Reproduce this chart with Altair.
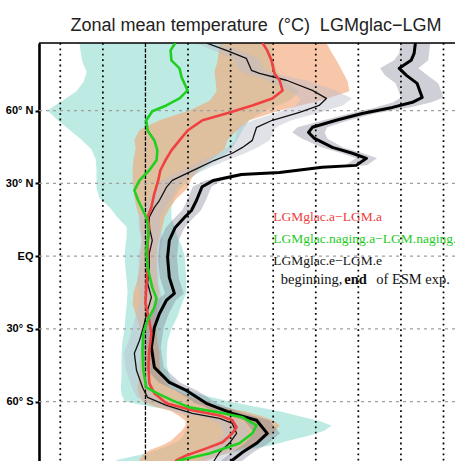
import altair as alt
import pandas as pd

# ---------------------------------------------------------------- data
# common latitude grid for the two ensemble-spread bands
BAND_LAT = [87.86, 84, 80, 76, 72, 68, 64, 60, 56, 52, 48, 44, 40, 36, 32, 28,
            24, 20, 16, 12, 8, 4, 0, -5, -10, -15, -20, -25, -30, -35, -40, -45,
            -50, -54, -57, -60, -62, -64, -66, -68, -70, -72, -74, -76, -78, -80,
            -82, -84, -86]
# spread of LGMglac.naging.a-LGM.naging.a
AQUA_LO = [-1.55, -1.52, -1.48, -1.38, -1.45, -1.62, -1.95, -2.30, -2.06, -1.78,
           -1.50, -1.27, -1.17, -1.15, -1.15, -1.15, -1.08, -0.84, -0.66, -0.44,
           -0.44, -0.47, -0.49, -0.47, -0.44, -0.42, -0.44, -0.47, -0.49, -0.54,
           -0.56, -0.56, -0.56, -0.58, -0.56, -0.49, 0.10, 0.80, 0.94, 0.99,
           0.99, 0.94, 0.89, 0.80, 0.57, 0.28, -0.14, -0.66, -0.80]
AQUA_HI = [2.96, 2.98, 3.03, 3.10, 3.27, 3.62, 3.38, 2.80, 2.44, 2.28,
           2.16, 2.02, 1.74, 1.36, 1.04, 0.82, 0.68, 0.61, 0.61, 0.68,
           0.75, 0.85, 0.92, 0.94, 0.96, 0.96, 0.85, 0.75, 0.61, 0.52,
           0.50, 0.50, 0.57, 0.80, 1.27, 1.97, 2.56, 3.15, 3.62, 4.09,
           4.37, 4.20, 3.85, 3.38, 2.96, 2.33, 1.79, 1.34, 1.15]
# spread of LGMglac.a-LGM.a
SALMON_LO = [1.74, 1.72, 1.69, 1.62, 1.65, 1.67, 1.51, 1.03, 0.33, -0.14,
             -0.26, -0.23, -0.28, -0.30, -0.30, -0.28, -0.26, -0.21, -0.14, -0.12,
             -0.09, -0.09, -0.12, -0.14, -0.19, -0.28, -0.30, -0.21, -0.12, -0.09,
             -0.12, -0.14, -0.14, -0.19, -0.16, -0.07, 0.21, 0.61, 0.80, 0.94,
             0.94, 0.85, 0.73, 0.61, 0.40, 0.10, -0.07, -0.14, -0.19]
SALMON_HI = [4.25, 4.37, 4.51, 4.63, 4.75, 4.79, 4.10, 3.15, 2.44, 2.16,
             1.93, 1.86, 1.55, 1.27, 1.08, 0.99, 0.75, 0.57, 0.45, 0.40,
             0.33, 0.28, 0.26, 0.26, 0.28, 0.33, 0.28, 0.26, 0.26, 0.28,
             0.33, 0.33, 0.38, 0.57, 0.92, 1.32, 1.74, 2.33, 2.73, 3.03,
             3.15, 3.05, 2.91, 2.73, 2.56, 2.16, 1.79, 1.50, 1.27]

GREEN_LAT = [87.86, 84.8, 80.7, 77.4, 73.7, 68.3, 65.0, 62.1, 59.7, 56.0, 51.8,
             47.7, 43.6, 39.5, 35.4, 31.2, 27.1, 22.9, 16.0, 13.5, 9.4, 2.4,
             -4.6, -12.9, -17.4, -21.2, -26.5, -31.9, -38.9, -47.1, -54.1, -56.6,
             -59.5, -62.4, -64.5, -66.5, -69.8, -73.1, -77.2, -81.4, -84.2, -87.86]
GREEN_VAL = [0.70, 0.59, 0.61, 0.80, 0.85, 0.99, 0.80, 0.49, 0.16, 0.02, 0.05,
             0.21, 0.28, 0.26, 0.09, -0.14, -0.26, -0.17, 0.02, 0.05, 0.07, 0.02,
             0.05, 0.16, 0.26, 0.21, 0.05, -0.05, -0.07, -0.05, 0.02, 0.28,
             0.63, 1.03, 1.74, 2.28, 2.61, 2.51, 2.21, 1.50, 0.80, 0.45]

RED_LAT = [87.86, 84.8, 80.7, 75.3, 72.5, 68.3, 65.0, 62.1, 58.8, 56.0, 51.8,
           47.7, 43.6, 39.5, 35.4, 31.2, 25.9, 20.1, 16.0, 11.8, 5.2, -4.6,
           -12.9, -19.5, -26.5, -31.9, -38.9, -45.9, -52.5, -56.6, -60.7, -63.6,
           -65.7, -67.7, -70.6, -73.1, -76.8, -79.3, -82.2, -84.2, -87.86]
RED_VAL = [2.75, 2.86, 2.96, 3.03, 3.15, 3.22, 2.98, 2.51, 1.90, 1.34, 0.99,
           0.80, 0.61, 0.47, 0.35, 0.30, 0.21, 0.14, 0.05, 0.09, 0.05, 0.05,
           0.02, 0.00, 0.09, 0.14, 0.09, 0.07, 0.09, 0.21, 0.49, 1.10,
           1.74, 2.04, 2.14, 2.04, 1.81, 1.43, 0.96, 0.73, 0.56]

# LGMglac.e-LGM.e, beginning of the ESM experiment (thin) and its spread
THIN_LAT = [87.86, 84.8, 81.5, 76.6, 75.3, 72.5, 68.3, 65.0, 62.1, 59.3, 56.0,
            53.1, 47.7, 44.8, 42.4, 39.5, 36.6, 34.0, 31.2, 28.3, 23.0, 20.1,
            16.0, 11.8, 6.5, 1.1, -4.6, -11.2, -17.0, -22.4, -29.4, -34.8,
            -40.1, -47.1, -54.1, -58.3, -61.6, -64.9, -66.9, -69.0, -73.1,
            -77.2, -80.9, -84.2, -87.86]
THIN_VAL = [1.43, 1.90, 2.37, 2.49, 2.68, 3.31, 3.92, 4.25, 4.08, 3.62, 2.98,
            2.61, 2.51, 2.28, 2.04, 1.62, 1.27, 0.96, 0.63, 0.49, 0.33, 0.21,
            0.09, 0.09, 0.16, 0.09, 0.09, 0.05, 0.14, 0.05, -0.05, -0.14,
            -0.26, -0.21, -0.07, 0.05, 0.49, 1.10, 1.74, 2.04, 2.14,
            1.97, 1.74, 1.62, 1.55]
THIN_SPREAD = [0.25, 0.30, 0.30, 0.30, 0.35, 0.45, 0.55, 0.60, 0.55, 0.50, 0.45,
               0.45, 0.40, 0.35, 0.30, 0.30, 0.25, 0.25, 0.25, 0.25, 0.25, 0.25,
               0.25, 0.25, 0.25, 0.25, 0.25, 0.25, 0.25, 0.25, 0.25, 0.25,
               0.25, 0.25, 0.25, 0.25, 0.25, 0.30, 0.30, 0.30, 0.30,
               0.30, 0.30, 0.30, 0.30]

# LGMglac.e-LGM.e, end of the ESM experiment (thick) and its spread
THICK_LAT = [87.86, 83.6, 80.7, 77.4, 74.5, 71.2, 65.4, 63.4, 61.3, 58.8, 56.0,
             53.1, 51.0, 48.5, 44.8, 42.4, 40.3, 37.4, 36.6, 34.5, 33.6, 31.2,
             28.6, 23.0, 18.8, 16.0, 11.8, 6.5, -0.5, -8.8, -15.4, -18.3,
             -23.7, -29.4, -37.6, -45.9, -52.1, -55.4, -60.7, -64.9, -67.7,
             -73.1, -77.2, -80.9, -84.2, -87.86]
THICK_VAL = [6.34, 6.31, 6.24, 5.96, 6.13, 6.38, 6.50, 6.27, 5.80, 5.09, 4.48,
             3.92, 3.83, 3.97, 4.39, 4.86, 5.19, 4.95, 4.15, 3.15, 2.25, 1.60,
             1.33, 1.20, 1.08, 0.92, 0.70, 0.56, 0.52, 0.56, 0.68, 0.49,
             0.33, 0.21, 0.14, 0.21, 0.56, 0.96, 1.43, 2.04, 2.61,
             2.86, 2.61, 2.28, 2.04, 1.85]
THICK_SPREAD = [0.35, 0.35, 0.40, 0.45, 0.50, 0.50, 0.50, 0.45, 0.40, 0.30, 0.30,
                0.35, 0.38, 0.30, 0.25, 0.25, 0.25, 0.25, 0.20, 0.20, 0.20, 0.20,
                0.22, 0.22, 0.22, 0.22, 0.22, 0.22, 0.22, 0.22, 0.22, 0.22,
                0.22, 0.22, 0.22, 0.22, 0.25, 0.25, 0.25, 0.28, 0.30,
                0.30, 0.28, 0.25, 0.25, 0.25]

GRID_X = [-2, -1, 1, 2, 3, 4, 5, 6, 7]
ZERO_X = [0]
LAT_TICKS = [60, 30, 0, -30, -60]
X_DOMAIN = [-2.5, 7.27]
Y_DOMAIN = [-84.5, 87.86]

LEGEND_TEXT = ["LGMglac.a\u2212LGM.a", "LGMglac.naging.a\u2212LGM.naging.a",
               "LGMglac.e\u2212LGM.e"]
LEGEND_COLOR = ["#ee3c3c", "#1fcb1f", "#151515"]
LEGEND_LAT = [16.1, 7.2, -2.2]
LEGEND_X = 3.0
NOTE_TEXT = ["beginning,", "end", "of ESM exp."]
NOTE_WEIGHT = ["normal", "bold", "normal"]
NOTE_X = [3.18, 4.67, 5.42]
NOTE_LAT = -10.0

# ---------------------------------------------------------------- helpers
xs = alt.Scale(domain=X_DOMAIN, nice=False, zero=False)
ys = alt.Scale(domain=Y_DOMAIN, nice=False, zero=False)

y_axis = alt.Axis(
    values=LAT_TICKS,
    labelExpr="datum.value == 0 ? 'EQ' : (datum.value > 0 ? datum.value + '\u00b0 N' : (-datum.value) + '\u00b0 S')",
    grid=False, title=None, domainColor="black", domainWidth=2.6,
    tickColor="black", tickSize=4, tickWidth=2, labelColor="black",
    labelFont="Liberation Sans", labelFontWeight="bold", labelFontSize=11,
    labelPadding=2)


def xq(field):
    return alt.X(field, type="quantitative", scale=xs, axis=None)


def yq(field):
    return alt.Y(field, type="quantitative", scale=ys, axis=y_axis)


def band(lat, lo, hi, color, opacity):
    df = pd.DataFrame({"lat": lat, "lo": lo, "hi": hi})
    return alt.Chart(df).mark_area(orient="horizontal", color=color,
                                   opacity=opacity, clip=True).encode(
        y=yq("lat"), x=xq("lo"), x2="hi")


def spread_band(lat, val, spread, color, opacity):
    lo = [v - s for v, s in zip(val, spread)]
    hi = [v + s for v, s in zip(val, spread)]
    return band(lat, lo, hi, color, opacity)


def curve(lat, val, color, width):
    df = pd.DataFrame({"lat": lat, "val": val})
    return alt.Chart(df).mark_line(color=color, strokeWidth=width,
                                   strokeJoin="round", clip=True).encode(
        y=yq("lat"), x=xq("val"), order=alt.Order("lat:Q"))


# ---------------------------------------------------------------- layers
aqua = band(BAND_LAT, AQUA_LO, AQUA_HI, "#bdebe3", 1.0)
salmon = band(BAND_LAT, SALMON_LO, SALMON_HI, "#f4a26f", 0.6)
thin_band = spread_band(THIN_LAT, THIN_VAL, THIN_SPREAD, "#bcbccc", 0.45)
thick_band = spread_band(THICK_LAT, THICK_VAL, THICK_SPREAD, "#7a7a90", 0.36)

vgrid = alt.Chart(pd.DataFrame({"v": GRID_X})).mark_rule(
    color="black", strokeWidth=1.7, strokeDash=[1.8, 3.6]).encode(x=xq("v"))
zero_line = alt.Chart(pd.DataFrame({"v": ZERO_X})).mark_rule(
    color="black", strokeWidth=1.3, strokeDash=[4, 1.5]).encode(x=xq("v"))

hgrid = alt.Chart(pd.DataFrame({"lat": LAT_TICKS})).mark_rule(
    color="#a0a0a0", strokeWidth=1.3, strokeDash=[3, 4]).encode(y=yq("lat"))
top_frame = alt.Chart(pd.DataFrame({"lat": [Y_DOMAIN[1]]})).mark_rule(
    color="black", strokeWidth=1.6).encode(y=yq("lat"))

thin = curve(THIN_LAT, THIN_VAL, "#111111", 1.3)
thick = curve(THICK_LAT, THICK_VAL, "#000000", 3.0)
red = curve(RED_LAT, RED_VAL, "#f04040", 2.6)
green = curve(GREEN_LAT, GREEN_VAL, "#1fd01f", 2.6)

legend_df = pd.DataFrame({"label": LEGEND_TEXT, "lat": LEGEND_LAT,
                          "x": [LEGEND_X] * len(LEGEND_TEXT),
                          "color": LEGEND_COLOR})
legend = alt.Chart(legend_df).mark_text(
    align="left", baseline="middle", font="Liberation Serif", fontSize=13.5).encode(
    x=xq("x"), y=yq("lat"), text="label:N",
    color=alt.Color("color:N", scale=None))

note_layers = []
for txt, wt, nx in zip(NOTE_TEXT, NOTE_WEIGHT, NOTE_X):
    note_df = pd.DataFrame({"label": [txt], "lat": [NOTE_LAT], "x": [nx]})
    note_layers.append(alt.Chart(note_df).mark_text(
        align="left", baseline="middle", font="Liberation Serif", fontSize=14.5,
        fontWeight=wt, color="#111111").encode(
        x=xq("x"), y=yq("lat"), text="label:N"))

chart = alt.layer(
    aqua, salmon, thin_band, thick_band, vgrid, zero_line, hgrid, top_frame,
    thin, thick, red, green, legend, *note_layers
).properties(
    width=416, height=418,
    padding={"left": 39, "top": 43, "right": 0, "bottom": 0},
    autosize=alt.AutoSizeParams(type="none"),
    title=alt.TitleParams(
        text="Zonal mean temperature \u00a0(\u00b0C)\u00a0 LGMglac\u2212LGM",
        font="Liberation Sans", fontSize=18, fontWeight="normal",
        color="#222222", anchor="middle", frame="group", baseline="bottom",
        offset=6, dx=9, dy=17),
).configure_view(stroke=None).configure(background="white")

chart.save("out.html", embed_options={"renderer": "svg", "actions": False})
